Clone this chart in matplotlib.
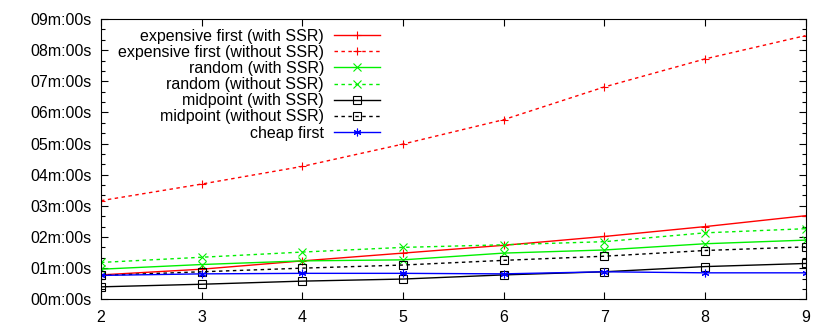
import matplotlib
matplotlib.use('Agg')
import matplotlib.pyplot as plt
from matplotlib.ticker import FuncFormatter, MultipleLocator

plt.rcParams['font.family'] = ['Liberation Sans', 'DejaVu Sans']

# number of points (x) and run time in seconds
x = [2, 3, 4, 5, 6, 7, 8, 9]
exp_ssr = [47, 58, 74, 89, 104, 121, 140, 161]
exp_nossr = [190, 222, 256, 299, 346, 409, 463, 508]
rand_ssr = [58, 67, 74, 76, 89, 95, 107, 114]
rand_nossr = [71, 81, 91, 100, 105, 111, 128, 136]
mid_ssr = [24, 29, 35, 39, 47, 53, 63, 69]
mid_nossr = [46, 53, 60, 66, 75, 83, 94, 101]
cheap = [46, 49, 50, 50, 49, 53, 51, 51]

fig = plt.figure(figsize=(8.3, 3.32), dpi=100)
ax = fig.add_axes([0.1217, 0.0985, 0.8488, 0.8443])

dash = (0, (2.5, 2.5))
kw = dict(lw=1.0, ms=5.5, mew=0.8)
ax.plot(x, exp_ssr, color='#ff0000', marker='+', label='expensive first (with SSR)', **kw)
ax.plot(x, exp_nossr, color='#ff0000', marker='+', ls=dash, label='expensive first (without SSR)', **kw)
ax.plot(x, rand_ssr, color='#00f000', marker='x', label='random (with SSR)', **kw)
ax.plot(x, rand_nossr, color='#00f000', marker='x', ls=dash, label='random (without SSR)', **kw)
ax.plot(x, mid_ssr, color='black', marker='s', mfc='none', label='midpoint (with SSR)', **kw)
ax.plot(x, mid_nossr, color='black', marker='s', mfc='none', ls=dash, label='midpoint (without SSR)', **kw)
ax.plot(x, cheap, color='#0000ff', marker=(6, 2, 0), label='cheap first', **kw)

ax.set_xlim(2, 9)
ax.set_ylim(0, 540)
ax.xaxis.set_major_locator(MultipleLocator(1))
ax.yaxis.set_major_locator(MultipleLocator(60))
ax.yaxis.set_minor_locator(MultipleLocator(20))
ax.yaxis.set_major_formatter(FuncFormatter(lambda v, p: '%02dm:%02ds' % (v // 60, v % 60)))

ax.tick_params(which='both', direction='in', top=True, right=True, labelsize=11.5)
ax.tick_params(which='major', length=5, width=0.8)
ax.tick_params(which='minor', length=3, width=0.8)
ax.tick_params(axis='y', pad=7)
ax.tick_params(axis='x', pad=8)

ax.legend(loc='upper right', bbox_to_anchor=(0.396, 0.965), frameon=False,
          markerfirst=False, fontsize=11.5, handlelength=2.9, handletextpad=0.6,
          labelspacing=0.07, borderpad=0, borderaxespad=0)

fig.savefig('out.png', dpi=100)
